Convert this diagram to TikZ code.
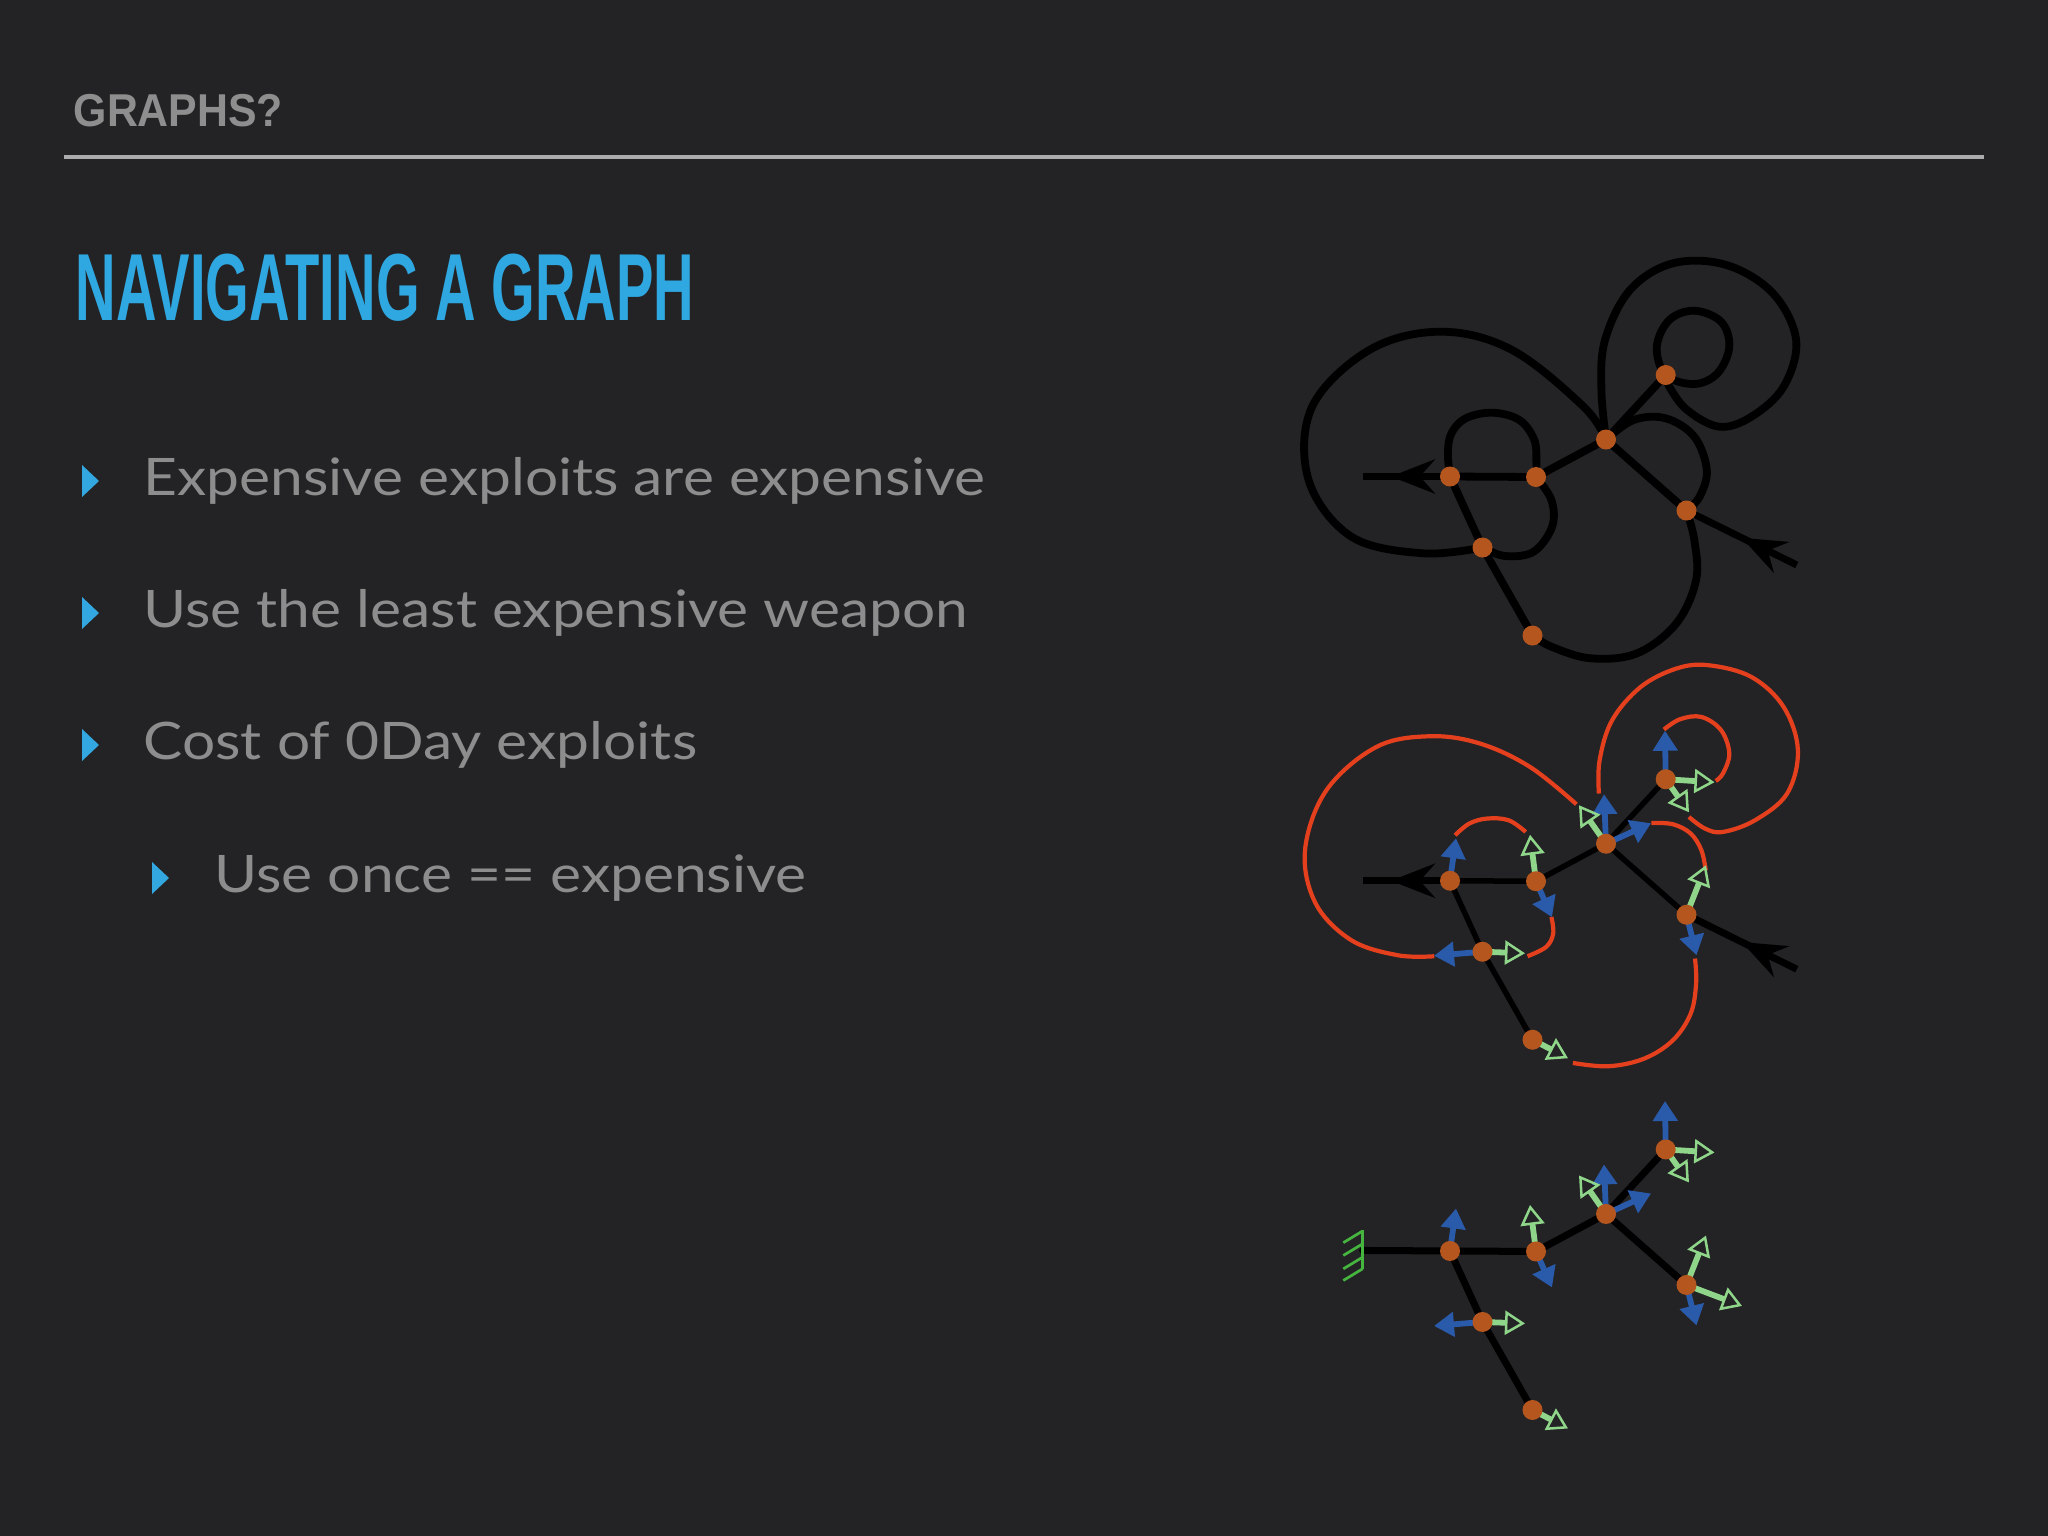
\documentclass[tikz,border=0pt]{standalone}
\usepackage{fontspec}
\setmainfont{Lato}
\newfontfamily\headfont{Liberation Sans}
\usetikzlibrary{arrows.meta,decorations.markings}
\definecolor{bg}{HTML}{232325}
\definecolor{headgray}{HTML}{8E8E8E}
\definecolor{rulegray}{HTML}{ABABAB}
\definecolor{titleblue}{HTML}{2FA7E0}
\definecolor{bulletblue}{HTML}{33A8E0}
\definecolor{textgray}{HTML}{8D8D8D}
\definecolor{dotc}{HTML}{B5561F}
\definecolor{redline}{HTML}{E4401E}
\definecolor{arrblue}{HTML}{2A5AAA}
\definecolor{arrgreen}{HTML}{8FD68A}
\definecolor{groundgreen}{HTML}{45B53F}
\pgfdeclarelayer{fg}
\pgfsetlayers{main,fg}

\newcommand\graphnodes[1]{%
  \begin{pgfonlayer}{fg}
  \node[dot] (A#1) at (1450,476.5) {};
  \node[dot] (B#1) at (1536,477) {};
  \node[dot] (C#1) at (1606,439.5) {};
  \node[dot] (D#1) at (1665.7,375) {};
  \node[dot] (E#1) at (1686.5,510.5) {};
  \node[dot] (F#1) at (1482.5,547.5) {};
  \node[dot] (G#1) at (1532.5,635.5) {};
  \end{pgfonlayer}}
\newcommand\graphedges[2]{%
  \draw[#2] (A#1.center) -- (B#1.center) -- (C#1.center) -- (D#1.center);
  \draw[#2] (C#1.center) -- (E#1.center);
  \draw[#2] (A#1.center) -- (F#1.center) -- (G#1.center);}
\newcommand\graphends[1]{%
  \coordinate (L#1) at (1362.9,476.5);
  \coordinate (R#1) at (1796.8,565);
  \draw[endline, postaction={decorate, decoration={markings, mark=at position 0.68 with {\arrow{bigstealth}}}}] (A#1.center) -- (L#1);
  \draw[endline, postaction={decorate, decoration={markings, mark=at position 0.5 with {\arrow{bigstealth}}}}] (R#1) -- (E#1.center);}
\newcommand\graphvectors[1]{%
  \draw[barrow] (A#1.center) -- (1456,434);
  \draw[barrow] (B#1.center) -- (1552,513);
  \draw[barrow] (C#1.center) -- (1604,390);
  \draw[barrow] (C#1.center) -- (1651,419);
  \draw[barrow] (D#1.center) -- (1665,326.5);
  \draw[barrow] (E#1.center) -- (1696.5,551);
  \draw[barrow] (F#1.center) -- (1434,551.5);
  \draw[garrow] (B#1.center) -- (1530,430.5);
  \draw[garrow] (C#1.center) -- (1579,401);
  \draw[garrow] (D#1.center) -- (1714.5,378);
  \draw[garrow] (D#1.center) -- (1689,408);
  \draw[garrow] (E#1.center) -- (1706,461);
  \draw[garrow] (F#1.center) -- (1525,549);
  \draw[garrow] (G#1.center) -- (1568,654);}

\begin{document}
\begin{tikzpicture}[x=0.01cm,y=-0.01cm,
  dot/.style={circle, fill=dotc, draw=none, inner sep=0pt, minimum size=0.2cm},
  blk/.style={line width=0.078cm, black, line cap=round, line join=round},
  blkmid/.style={line width=0.07cm, black, line cap=round, line join=round},
  blkthin/.style={line width=0.055cm, black, line join=round},
  endline/.style={line width=0.07cm, black},
  redc/.style={line width=0.042cm, redline},
  bigstealth/.tip={Stealth[length=0.44cm,width=0.34cm,inset=0.15cm]},
  barrow/.style={line width=0.058cm, arrblue, -{Triangle[length=0.2cm,width=0.24cm]}},
  garrow/.style={line width=0.058cm, arrgreen, -{Triangle[open,length=0.2cm,width=0.24cm,line width=0.025cm]}},
  bodytext/.style={anchor=base west, inner sep=0pt, text=textgray, font=\fontsize{14.7}{18}\selectfont},
  bulletmark/.style={fill=bulletblue}]
\useasboundingbox (0,0) rectangle (2048,1536);
\fill[bg] (0,0) rectangle (2048,1536);

% header
\node[anchor=base west, inner sep=0pt, text=headgray, font=\headfont\bfseries\fontsize{13.1}{15}\selectfont] (head) at (73,126) {\scalebox{0.93}[1]{GRAPHS?}};
\draw[rulegray, line width=0.04cm] (63.8,156.5) -- (1984,156.5);
\node[anchor=base west, inner sep=0pt, text=titleblue, font=\headfont\bfseries\fontsize{27.1}{30}\selectfont] (title) at (75,320) {\scalebox{0.589}[1]{NAVIGATING A GRAPH}};

% bullets
\fill[bulletmark] (82,465) -- (99,481) -- (82,497) -- cycle;
\node[bodytext] (t1) at (143,495) {\scalebox{1.135}[1]{Expensive exploits are expensive}};
\fill[bulletmark] (82,597) -- (99,613) -- (82,629) -- cycle;
\node[bodytext] (t2) at (143,627) {\scalebox{1.135}[1]{Use the least expensive weapon}};
\fill[bulletmark] (82,729) -- (99,745) -- (82,761) -- cycle;
\node[bodytext] (t3) at (143,759) {\scalebox{1.135}[1]{Cost of 0Day exploits}};
\fill[bulletmark] (152,862) -- (169,878) -- (152,894) -- cycle;
\node[bodytext] (t4) at (214,892) {\scalebox{1.135}[1]{Use once == expensive}};

% ---------- diagram 1 ----------
\graphnodes{1}
\graphedges{1}{blk}
\graphends{1}
\draw[blk] plot[smooth, tension=0.6] coordinates {(F1.center) (1422.9,553.3) (1351.4,536.7) (1308.6,480) (1312.1,406.7) (1369.3,350) (1440.7,331.7) (1512.1,350) (1583.6,406.7) (C1.center)};
\draw[blk] plot[smooth, tension=0.6] coordinates {(A1.center) (1447.9,453.3) (1451.4,433.3) (1465.7,418.3) (1492.5,412.7) (1519.3,420) (1534.3,440) (1536.4,463.3) (B1.center)};
\draw[blk] plot[smooth, tension=0.6] coordinates {(B1.center) (1551.4,500) (1552.1,526.7) (1533.6,551.7) (1505,556) (F1.center)};
\draw[blk] plot[smooth, tension=0.6] coordinates {(C1.center) (1601.4,390) (1605,340) (1630,290) (1672.9,263.3) (1726.4,265) (1772.9,293.3) (1796.1,340) (1783.6,386.7) (1751.4,416.7) (1719.3,426.7) (1687.1,410) (1669.3,386.7) (D1.center)};
\draw[blk] plot[smooth cycle, tension=0.6] coordinates {(D1.center) (1656.8,346.7) (1669.3,320) (1694.3,310.7) (1721.1,321.7) (1729.3,346.7) (1717.5,373.3) (1694.3,384)};
\draw[blk] plot[smooth, tension=0.6] coordinates {(C1.center) (1633.6,420) (1665.7,418.3) (1694.3,436.7) (1706.8,470) (1699.6,496.7) (E1.center)};
\draw[blk] plot[smooth, tension=0.6] coordinates {(E1.center) (1694.3,540) (1696.1,580) (1676.4,623.3) (1637.1,653.3) (1590.7,658.3) (1551.4,646.7) (G1.center)};

% ---------- diagram 2 ----------
\begin{scope}[yshift=-4.04cm]
\graphnodes{2}
\draw[redc] plot[smooth, tension=0.6] coordinates {(1576.4,400) (1530,362.7) (1480,339.3) (1430,332) (1376.4,342.7) (1326.4,386) (1305,446) (1315.7,499.3) (1351.4,536) (1397.9,551) (1434.3,552)};
\draw[redc] plot[smooth, tension=0.6] coordinates {(1455,431) (1469.3,419.3) (1487.1,414.3) (1508.6,416) (1525.7,427.7)};
\draw[redc] plot[smooth, tension=0.6] coordinates {(1551.4,512.7) (1553.2,529.3) (1546.1,542.7) (1527.5,552)};
\draw[redc] plot[smooth, tension=0.6] coordinates {(1598.9,389.3) (1599.6,356) (1612.1,316) (1640.7,282.7) (1676.4,264.3) (1708.6,261) (1751.4,272.7) (1783.6,302.7) (1797.9,346) (1787.1,389.3) (1755,416) (1722.9,427.7) (1705,424.3) (1688.9,412.7)};
\draw[redc] plot[smooth, tension=0.6] coordinates {(1663.9,325.3) (1680,315) (1701.4,312.7) (1721.1,326) (1729.3,349.3) (1722.9,369.3) (1715.7,376.7)};
\draw[redc] plot[smooth, tension=0.6] coordinates {(1651.4,418.7) (1672.9,420) (1690.7,429.3) (1701.4,446) (1705.7,466)};
\draw[redc] plot[smooth, tension=0.6] coordinates {(1695,554.3) (1696.1,579.3) (1690.7,609.3) (1672.9,636) (1644.3,654.3) (1608.6,662) (1572.9,658.7)};
\graphedges{2}{blkthin}
\graphends{2}
\graphvectors{2}
\end{scope}

% ---------- diagram 3 ----------
\begin{scope}[yshift=-7.74cm]
\graphnodes{3}
\coordinate (W3) at (1362.7,476);
\draw[blkmid] (W3) -- (A3.center);
\graphedges{3}{blkmid}
\graphvectors{3}
\draw[garrow] (E3.center) -- (1742,531.5);
\draw[groundgreen, line width=0.027cm] (1362.7,455.5) -- (1362.7,494.5);
\foreach \yy in {456.5,469.3,482.7,494.3}
  \draw[groundgreen, line width=0.027cm] (1362.7,\yy) -- (1343.3,\yy+11.7);
\end{scope}
\end{tikzpicture}
\end{document}
